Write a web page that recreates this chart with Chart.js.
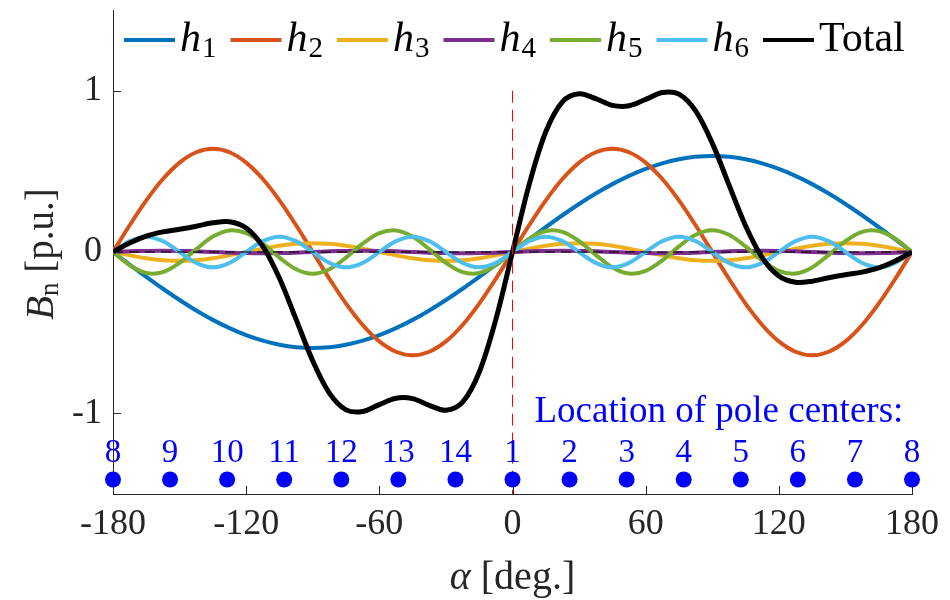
<!DOCTYPE html>
<html>
<head>
<meta charset="utf-8">
<script src="https://cdn.jsdelivr.net/npm/chart.js@4.4.1/dist/chart.umd.min.js"></script>
<style>
html, body { margin: 0; padding: 0; background: #fff; }
#grafica-container { width: 950px; height: 600px; position: relative; }
</style>
</head>
<body>
<div id="grafica-container"><canvas id="grafica"></canvas></div>
<script>
// DATOS
const alpha = [-180, -172.5, -165, -157.5, -150, -142.5, -135, -127.5, -120, -112.5, -105, -97.5,
    -90, -82.5, -75, -67.5, -60, -52.5, -45, -37.5, -30, -22.5, -15, -7.5,
    0, 7.5, 15, 22.5, 30, 37.5, 45, 52.5, 60, 67.5, 75, 82.5,
    90, 97.5, 105, 112.5, 120, 127.5, 135, 142.5, 150, 157.5, 165, 172.5, 180];

const h1 = [0, -0.0777, -0.154, -0.2277, -0.2975, -0.3622, -0.4207, -0.4721, -0.5153, -0.5497, -0.5747, -0.5899,
    -0.595, -0.5899, -0.5747, -0.5497, -0.5153, -0.4721, -0.4207, -0.3622, -0.2975, -0.2277, -0.154, -0.0777,
    0, 0.0777, 0.154, 0.2277, 0.2975, 0.3622, 0.4207, 0.4721, 0.5153, 0.5497, 0.5747, 0.5899,
    0.595, 0.5899, 0.5747, 0.5497, 0.5153, 0.4721, 0.4207, 0.3622, 0.2975, 0.2277, 0.154, 0.0777, 0];

const h2 = [0, 0.1656, 0.32, 0.4525, 0.5542, 0.6182, 0.64, 0.6182, 0.5542, 0.4525, 0.32, 0.1656,
    0, -0.1656, -0.32, -0.4525, -0.5542, -0.6182, -0.64, -0.6182, -0.5542, -0.4525, -0.32, -0.1656,
    0, 0.1656, 0.32, 0.4525, 0.5542, 0.6182, 0.64, 0.6182, 0.5542, 0.4525, 0.32, 0.1656,
    0, -0.1656, -0.32, -0.4525, -0.5542, -0.6182, -0.64, -0.6182, -0.5542, -0.4525, -0.32, -0.1656, 0];

const h3 = [0, -0.021, -0.0389, -0.0508, -0.055, -0.0508, -0.0389, -0.021, 0, 0.021, 0.0389, 0.0508,
    0.055, 0.0508, 0.0389, 0.021, 0, -0.021, -0.0389, -0.0508, -0.055, -0.0508, -0.0389, -0.021,
    0, 0.021, 0.0389, 0.0508, 0.055, 0.0508, 0.0389, 0.021, 0, -0.021, -0.0389, -0.0508,
    -0.055, -0.0508, -0.0389, -0.021, 0, 0.021, 0.0389, 0.0508, 0.055, 0.0508, 0.0389, 0.021, 0];

const h4 = [0, 0.004, 0.0069, 0.008, 0.0069, 0.004, 0, -0.004, -0.0069, -0.008, -0.0069, -0.004,
    0, 0.004, 0.0069, 0.008, 0.0069, 0.004, 0, -0.004, -0.0069, -0.008, -0.0069, -0.004,
    0, 0.004, 0.0069, 0.008, 0.0069, 0.004, 0, -0.004, -0.0069, -0.008, -0.0069, -0.004,
    0, 0.004, 0.0069, 0.008, 0.0069, 0.004, 0, -0.004, -0.0069, -0.008, -0.0069, -0.004, 0];

const h5 = [0, -0.0822, -0.1304, -0.1247, -0.0675, 0.0176, 0.0955, 0.1338, 0.1169, 0.0517, -0.0349, -0.1071,
    -0.135, -0.1071, -0.0349, 0.0517, 0.1169, 0.1338, 0.0955, 0.0176, -0.0675, -0.1247, -0.1304, -0.0822,
    0, 0.0822, 0.1304, 0.1247, 0.0675, -0.0176, -0.0955, -0.1338, -0.1169, -0.0517, 0.0349, 0.1071,
    0.135, 0.1071, 0.0349, -0.0517, -0.1169, -0.1338, -0.0955, -0.0176, 0.0675, 0.1247, 0.1304, 0.0822, 0];

const h6 = [0, 0.0672, 0.095, 0.0672, 0, -0.0672, -0.095, -0.0672, 0, 0.0672, 0.095, 0.0672,
    0, -0.0672, -0.095, -0.0672, 0, 0.0672, 0.095, 0.0672, 0, -0.0672, -0.095, -0.0672,
    0, 0.0672, 0.095, 0.0672, 0, -0.0672, -0.095, -0.0672, 0, 0.0672, 0.095, 0.0672,
    0, -0.0672, -0.095, -0.0672, 0, 0.0672, 0.095, 0.0672, 0, -0.0672, -0.095, -0.0672, 0];

const total = [0, 0.0559, 0.0986, 0.1245, 0.1411, 0.1596, 0.1809, 0.1877, 0.1489, 0.0347, -0.1626, -0.4174,
    -0.675, -0.875, -0.9788, -0.9887, -0.9457, -0.9063, -0.9091, -0.9504, -0.9811, -0.9309, -0.7452, -0.4177,
    0, 0.4177, 0.7452, 0.9309, 0.9811, 0.9504, 0.9091, 0.9063, 0.9457, 0.9887, 0.9788, 0.875,
    0.675, 0.4174, 0.1626, -0.0347, -0.1489, -0.1877, -0.1809, -0.1596, -0.1411, -0.1245, -0.0986, -0.0559, 0];

// centros de polo
const poleAngles = [-180, -154.29, -128.57, -102.86, -77.14, -51.43, -25.71, 0,
    25.71, 51.43, 77.14, 102.86, 128.57, 154.29, 180];
const poleLabels = ['8', '9', '10', '11', '12', '13', '14', '1', '2', '3', '4', '5', '6', '7', '8'];

const xTicks = [-180, -120, -60, 0, 60, 120, 180];
const yTicks = [-1, 0, 1];

const seriesNames = ['1', '2', '3', '4', '5', '6', 'Total'];

// ESTILO
const colors = ['#0072BD', '#D95319', '#EDB120', '#7E2F8E', '#77AC30', '#4DBEEE', '#000000'];
const SERIF = '"Liberation Serif", "DejaVu Serif", serif';
const AXIS = '#262626';
const BLUE = '#0000FF';
const poleLevel = -1.41;

const series = [h1, h2, h3, h4, h5, h6, total];

function puntos(ys) {
    return alpha.map((a, i) => ({ x: a, y: ys[i] }));
}

const datasets = series.map((ys, i) => ({
    data: puntos(ys),
    borderColor: colors[i],
    borderWidth: i === 6 ? 5 : 4,
    pointRadius: 0,
    tension: 0.33,
    fill: false,
    order: 10 - i
}));

// linea de cero (negra punteada)
datasets.push({
    data: [{ x: -180, y: 0 }, { x: 180, y: 0 }],
    borderColor: '#000', borderWidth: 1, borderDash: [10, 6], pointRadius: 0, order: 2
});
// linea vertical roja en 0
datasets.push({
    data: [{ x: 0, y: 1 }, { x: 0, y: -1.5 }],
    borderColor: '#FF0000', borderWidth: 1, borderDash: [12, 7], pointRadius: 0, order: 1
});
// puntos de los polos
datasets.push({
    data: poleAngles.map(a => ({ x: a, y: poleLevel })),
    showLine: false, pointRadius: 8, pointBackgroundColor: BLUE,
    pointBorderWidth: 0, pointBorderColor: BLUE, clip: false, order: 0
});

// marcas de los ejes hacia dentro
const marcas = {
    id: 'marcas',
    beforeDatasetsDraw(chart) {
        const { ctx, chartArea: a, scales: { x, y } } = chart;
        ctx.save();
        ctx.strokeStyle = AXIS;
        ctx.lineWidth = 1;
        ctx.beginPath();
        xTicks.forEach(v => {
            const px = Math.round(x.getPixelForValue(v)) + 0.5;
            ctx.moveTo(px, a.bottom);
            ctx.lineTo(px, a.bottom - 8);
        });
        yTicks.forEach(v => {
            const py = Math.round(y.getPixelForValue(v)) + 0.5;
            ctx.moveTo(a.left, py);
            ctx.lineTo(a.left + 8, py);
        });
        ctx.stroke();
        ctx.restore();
    }
};

// textos: leyenda, titulos, polos
const textos = {
    id: 'textos',
    afterDraw(chart) {
        const { ctx, chartArea: a, scales: { x, y } } = chart;
        ctx.save();
        ctx.textBaseline = 'alphabetic';
        ctx.textAlign = 'left';

        // LEYENDA
        let px = a.left + 11;
        const ly = 40;
        seriesNames.forEach((n, i) => {
            ctx.strokeStyle = colors[i];
            ctx.lineWidth = 4;
            ctx.beginPath();
            ctx.moveTo(px, ly);
            ctx.lineTo(px + 51, ly);
            ctx.stroke();
            px += 56;
            ctx.fillStyle = '#000';
            if (n !== 'Total') {
                ctx.font = 'italic 42px ' + SERIF;
                ctx.fillText('h', px, 51);
                px += ctx.measureText('h').width + 1;
                ctx.font = '29px ' + SERIF;
                ctx.fillText(n, px, 57);
                px += ctx.measureText(n).width;
            } else {
                ctx.font = '42px ' + SERIF;
                ctx.fillText(n, px, 51);
                px += ctx.measureText(n).width;
            }
            px += 14;
        });

        // TITULO EJE X
        ctx.fillStyle = AXIS;
        ctx.font = 'italic 40px ' + SERIF;
        const wa = ctx.measureText('\u03b1').width;
        ctx.font = '40px ' + SERIF;
        const wd = ctx.measureText(' [deg.]').width;
        let tx = (a.left + a.right) / 2 - (wa + wd) / 2;
        ctx.font = 'italic 40px ' + SERIF;
        ctx.fillText('\u03b1', tx, 589);
        ctx.font = '40px ' + SERIF;
        ctx.fillText(' [deg.]', tx + wa, 589);

        // TITULO EJE Y
        ctx.save();
        ctx.translate(53, (a.top + a.bottom) / 2 + 2);
        ctx.rotate(-Math.PI / 2);
        ctx.font = 'italic 39px ' + SERIF;
        const wb = ctx.measureText('B').width;
        ctx.font = '27px ' + SERIF;
        const wn = ctx.measureText('n').width;
        ctx.font = '39px ' + SERIF;
        const wp = ctx.measureText(' [p.u.]').width;
        let ty = -(wb + wn + wp) / 2;
        ctx.font = 'italic 39px ' + SERIF;
        ctx.fillText('B', ty, 0);
        ctx.font = '27px ' + SERIF;
        ctx.fillText('n', ty + wb, 5);
        ctx.font = '39px ' + SERIF;
        ctx.fillText(' [p.u.]', ty + wb + wn, 0);
        ctx.restore();

        // POLOS
        const dotY = y.getPixelForValue(poleLevel);
        ctx.fillStyle = BLUE;
        ctx.textAlign = 'center';
        ctx.font = '33px ' + SERIF;
        poleAngles.forEach((p, i) => {
            ctx.fillText(poleLabels[i], x.getPixelForValue(p), dotY - 17);
        });
        ctx.font = '37px ' + SERIF;
        ctx.fillText('Location of pole centers:', x.getPixelForValue(93), dotY - 57);

        ctx.restore();
    }
};

function dibujar() {
    const ctx = document.getElementById('grafica').getContext('2d');
    new Chart(ctx, {
        type: 'line',
        data: { datasets: datasets },
        plugins: [marcas, textos],
        options: {
            responsive: true,
            maintainAspectRatio: false,
            devicePixelRatio: 1,
            animation: false,
            layout: { padding: { top: 10, right: 38, left: 0, bottom: 0 } },
            plugins: { legend: { display: false }, tooltip: { enabled: false } },
            scales: {
                x: {
                    type: 'linear',
                    min: -180, max: 180,
                    afterFit: s => { s.height = 106; s.paddingLeft = 0; s.paddingRight = 0; },
                    afterBuildTicks: s => { s.ticks = xTicks.map(v => ({ value: v })); },
                    grid: { display: false, drawTicks: false },
                    border: { display: true, color: AXIS, width: 1 },
                    ticks: { color: AXIS, padding: 9, maxRotation: 0, font: { family: SERIF, size: 36 } }
                },
                y: {
                    min: -1.5, max: 1.5,
                    afterFit: s => { s.width = 113; s.paddingTop = 0; s.paddingBottom = 0; },
                    afterBuildTicks: s => { s.ticks = yTicks.map(v => ({ value: v })); },
                    grid: { display: false, drawTicks: false },
                    border: { display: true, color: AXIS, width: 1 },
                    ticks: { color: AXIS, padding: 11, font: { family: SERIF, size: 36 } }
                }
            }
        }
    });
}

Promise.all([
    document.fonts.load('36px "Liberation Serif"'),
    document.fonts.load('italic 36px "Liberation Serif"')
]).then(dibujar, dibujar);
</script>
</body>
</html>
